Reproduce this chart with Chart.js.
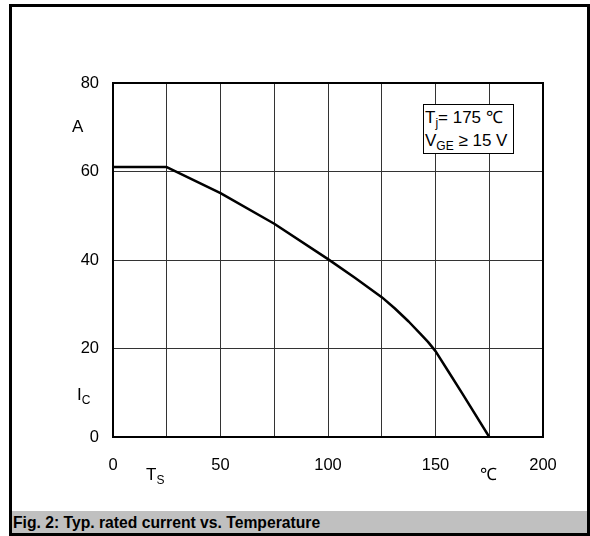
<!DOCTYPE html>
<html>
<head>
<meta charset="utf-8">
<script src="https://cdn.jsdelivr.net/npm/chart.js@4.4.1/dist/chart.umd.min.js"></script>
<style>
    body { margin: 0; background: #fff; }
    #wrap { position: relative; width: 590px; height: 536px; font-family: "Liberation Sans", Arial, sans-serif; color: #000; }
    #frame { position: absolute; left: 9px; top: 4px; width: 581px; height: 532px; border: 3px solid #000; box-sizing: border-box; }
    #caption { position: absolute; left: 12px; top: 511px; width: 575px; height: 22px; background: #c0c0c0;
        font-weight: bold; font-size: 15.7px; line-height: 23px; padding-left: 1px; box-sizing: border-box; white-space: nowrap; }
    .lbl { position: absolute; font-size: 17px; line-height: 18px; white-space: nowrap; }
    .lbl sub { font-size: 12px; vertical-align: -4px; line-height: 0; }
    #note { position: absolute; left: 423px; top: 104px; width: 91px; height: 50px; border: 1px solid #000;
        background: #fff; box-sizing: border-box; font-size: 17px; line-height: 23px; padding-left: 1px; padding-top: 1px; white-space: nowrap; }
    #note sub { font-size: 12px; vertical-align: -4px; line-height: 0; color: #000; }
    canvas { position: absolute; left: 0; top: 0; }
</style>
</head>
<body>
<div id="wrap">
    <canvas id="ratedCurrentChart" width="590" height="536"></canvas>
    <div id="frame"></div>
    <div class="lbl" style="left:72px; top:118px;">A</div>
    <div class="lbl" style="left:77px; top:386px;">I<sub>C</sub></div>
    <div class="lbl" style="left:146px; top:466px;">T<sub>S</sub></div>
    <div class="lbl" style="left:480px; top:466px;">℃</div>
    <div id="note">T<sub>j</sub>= 175 ℃<br>V<sub>GE</sub> ≥ 15 V</div>
    <div id="caption">Fig. 2: Typ. rated current vs. Temperature</div>
</div>
<script>
// case temperature (°C) and max. rated collector current (A)
const temps = [0, 25, 50, 75, 100, 112.5, 125, 131, 137.5, 143, 146.5, 150, 156, 162.5, 175];
const current = [61, 61, 55.1, 48.2, 40.2, 36, 31.6, 29.1, 26.1, 23.3, 21.5, 19.4, 14.8, 9.8, 0];

const xTicks = [0, 50, 100, 150, 200];
const yTicks = [0, 20, 40, 60, 80];

const points = temps.map((t, i) => ({ x: t, y: current[i] }));

// black frame round the plot area
const plotFrame = {
    id: 'plotFrame',
    afterDraw(chart) {
        const { ctx, chartArea } = chart;
        ctx.save();
        ctx.strokeStyle = '#000';
        ctx.lineWidth = 2;
        ctx.strokeRect(chartArea.left, chartArea.top, chartArea.right - chartArea.left, chartArea.bottom - chartArea.top);
        ctx.restore();
    }
};

const config = {
    type: 'line',
    data: {
        datasets: [{
            data: points,
            borderColor: '#000',
            borderWidth: 2.5,
            pointRadius: 0,
            tension: 0,
            borderJoinStyle: 'round',
            fill: false
        }]
    },
    options: {
        responsive: false,
        animation: false,
        layout: { padding: { top: 83, right: 47, left: 0, bottom: 0 } },
        plugins: { legend: { display: false }, tooltip: { enabled: false } },
        scales: {
            x: {
                type: 'linear',
                min: 0,
                max: 200,
                grid: { color: '#333', lineWidth: 1, drawTicks: false },
                border: { display: false },
                ticks: {
                    stepSize: 25,
                    padding: 19,
                    maxRotation: 0,
                    color: '#000',
                    font: { family: 'Liberation Sans', size: 16.5 },
                    callback: v => xTicks.includes(v) ? v : ''
                },
                afterFit: scale => { scale.height = 99; }
            },
            y: {
                min: 0,
                max: 80,
                grid: { color: '#333', lineWidth: 1, drawTicks: false },
                border: { display: false },
                ticks: {
                    stepSize: 20,
                    padding: 14,
                    color: '#000',
                    font: { family: 'Liberation Sans', size: 16.5 },
                    callback: v => yTicks.includes(v) ? v : ''
                },
                afterFit: scale => { scale.width = 113; }
            }
        }
    },
    plugins: [plotFrame]
};

const myChart = new Chart(document.getElementById('ratedCurrentChart'), config);
</script>
</body>
</html>
